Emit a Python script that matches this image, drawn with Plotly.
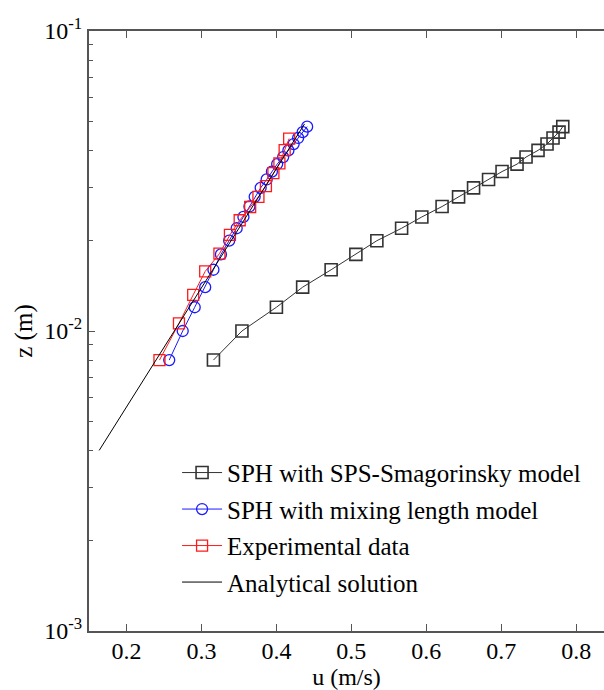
import plotly.graph_objects as go

# SPH with SPS-Smagorinsky model
z_sps = [0.008, 0.010, 0.012, 0.014, 0.016, 0.018, 0.020, 0.022, 0.024, 0.026, 0.028,
         0.030, 0.032, 0.034, 0.036, 0.038, 0.040, 0.042, 0.044, 0.046, 0.048]
u_sps = [0.316, 0.354, 0.400, 0.435, 0.473, 0.506, 0.534, 0.567, 0.594, 0.621, 0.643,
         0.663, 0.683, 0.701, 0.721, 0.733, 0.749, 0.761, 0.769, 0.777, 0.782]

# SPH with mixing length model
z_mix = [0.008, 0.010, 0.012, 0.014, 0.016, 0.018, 0.020, 0.022, 0.024, 0.026, 0.028,
         0.030, 0.032, 0.034, 0.036, 0.038, 0.040, 0.042, 0.044, 0.046, 0.048]
u_mix = [0.257, 0.275, 0.291, 0.305, 0.316, 0.326, 0.337, 0.347, 0.356, 0.364, 0.371,
         0.379, 0.387, 0.394, 0.401, 0.409, 0.416, 0.423, 0.429, 0.435, 0.441]

# Experimental data
z_exp = [0.0080, 0.0106, 0.0132, 0.0158, 0.0181, 0.0209, 0.0234, 0.0259, 0.0280,
         0.0304, 0.0336, 0.0362, 0.0401, 0.0438]
u_exp = [0.244, 0.270, 0.289, 0.305, 0.324, 0.338, 0.351, 0.365, 0.376,
         0.386, 0.396, 0.404, 0.411, 0.417]

# Analytical solution (log law)
z_ana = [0.0040, 0.0490]
u_ana = [0.1636, 0.4375]

x_ticks = [0.2, 0.3, 0.4, 0.5, 0.6, 0.7, 0.8]
x_ticktext = ["0.2", "0.3", "0.4", "0.5", "0.6", "0.7", "0.8"]
y_ticks = [0.001, 0.01, 0.1]
y_ticktext = ["10<sup>-3</sup>", "10<sup>-2</sup>", "10<sup>-1</sup>"]
y_minor = [0.002, 0.003, 0.004, 0.005, 0.006, 0.007, 0.008, 0.009,
           0.02, 0.03, 0.04, 0.05, 0.06, 0.07, 0.08, 0.09]

FONT = "Liberation Serif, Times New Roman, serif"
AX = "#555555"

fig = go.Figure()
fig.add_trace(go.Scatter(
    x=u_sps, y=z_sps, mode="lines+markers", name="SPH with SPS-Smagorinsky model",
    legendgroup="a",
    line=dict(color="#333333", width=1),
    marker=dict(symbol="square-open", size=12, color="#333333", line=dict(width=1.6, color="#333333")),
))
fig.add_trace(go.Scatter(
    x=u_mix, y=z_mix, mode="lines+markers", name="SPH with mixing length model",
    legendgroup="b",
    line=dict(color="#1a1aff", width=1),
    marker=dict(symbol="circle-open", size=11, color="#1a1aff", line=dict(width=1.3, color="#1a1aff")),
))
fig.add_trace(go.Scatter(
    x=u_exp, y=z_exp, mode="lines+markers", name="Experimental data",
    legendgroup="c",
    line=dict(color="#ff1a1a", width=1),
    marker=dict(symbol="square-open", size=11, color="#ff1a1a", line=dict(width=1.3, color="#ff1a1a")),
))
fig.add_trace(go.Scatter(
    x=u_ana, y=z_ana, mode="lines", name="Analytical solution",
    legendgroup="d",
    line=dict(color="#000000", width=1),
))

fig.update_layout(
    width=604, height=690,
    margin=dict(l=89, r=0, t=31, b=59),
    paper_bgcolor="white", plot_bgcolor="white",
    font=dict(family=FONT, size=24, color="black"),
    showlegend=True,
    legend=dict(
        x=0.171, y=0.302, xanchor="left", yanchor="top",
        bgcolor="rgba(0,0,0,0)", borderwidth=0,
        font=dict(family=FONT, size=25, color="black"),
        itemwidth=40, tracegroupgap=1, traceorder="grouped",
    ),
    xaxis=dict(
        range=[0.15, 0.837], tickvals=x_ticks, ticktext=x_ticktext,
        ticks="inside", ticklen=7, tickcolor=AX, tickwidth=1,
        showline=True, linecolor=AX, linewidth=2, mirror="ticks",
        showgrid=False, zeroline=False, ticklabelstandoff=-3,
        title=dict(text="u (m/s)", font=dict(family=FONT, size=24), standoff=7),
        tickfont=dict(family=FONT, size=24),
    ),
    yaxis=dict(
        type="log", range=[-3, -1], tickvals=y_ticks, ticktext=y_ticktext,
        ticks="inside", ticklen=6, tickcolor=AX, tickwidth=1,
        minor=dict(ticks="inside", ticklen=4, tickcolor=AX, showgrid=False, tickvals=y_minor),
        showline=True, linecolor=AX, linewidth=2, mirror=False,
        showgrid=False, zeroline=False,
        title=dict(text="z (m)", font=dict(family=FONT, size=25), standoff=4),
        tickfont=dict(family=FONT, size=24),
    ),
)

fig.write_html("out.html")
